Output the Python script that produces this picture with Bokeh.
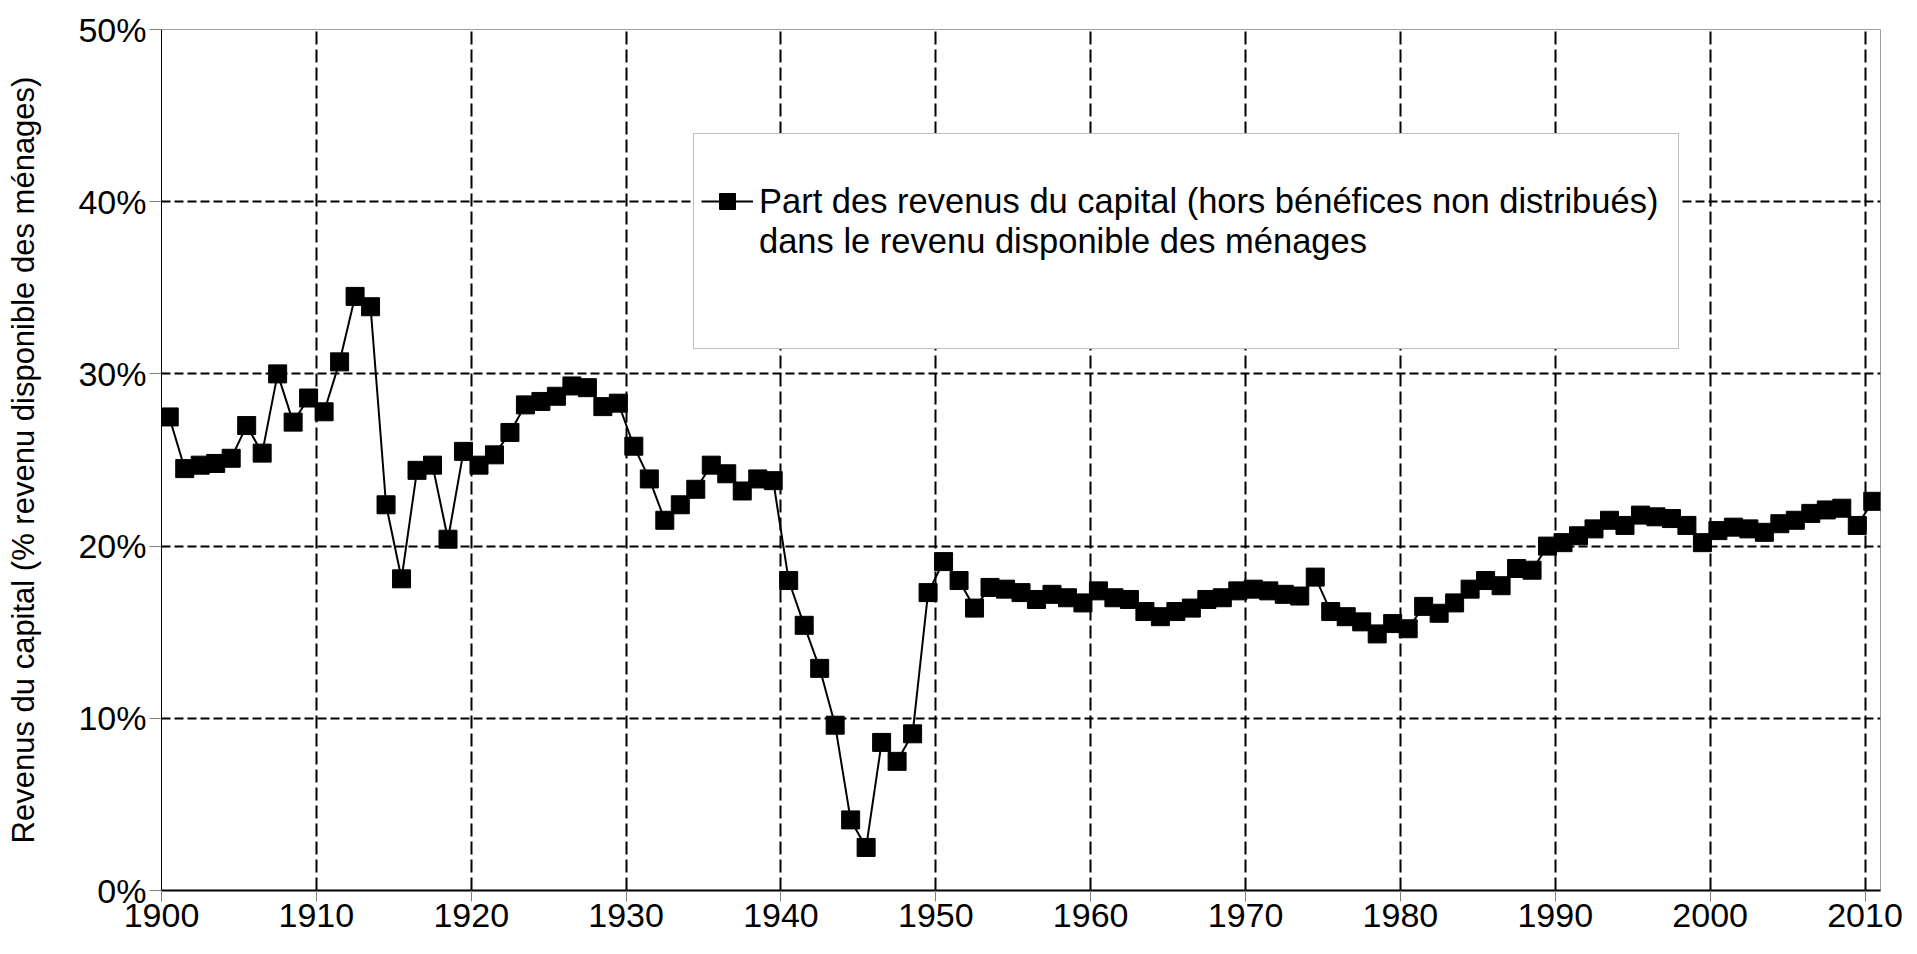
from bokeh.plotting import figure
from bokeh.models import (ColumnDataSource, Range1d, FixedTicker, PrintfTickFormatter,
                          Legend, LegendItem)
from bokeh.transform import dodge
from bokeh.embed import file_html
from bokeh.resources import INLINE

# ---- data ----
years = list(range(1900, 2011))
capital_share = [
    27.5, 24.5, 24.7, 24.8, 25.1, 27.0, 25.4, 30.0, 27.2, 28.6,   # 1900-1909
    27.8, 30.7, 34.5, 33.9, 22.4, 18.1, 24.4, 24.7, 20.4, 25.5,   # 1910-1919
    24.7, 25.3, 26.6, 28.2, 28.4, 28.7, 29.3, 29.2, 28.1, 28.3,   # 1920-1929
    25.8, 23.9, 21.5, 22.4, 23.3, 24.7, 24.2, 23.2, 23.9, 23.8,   # 1930-1939
    18.0, 15.4, 12.9, 9.6, 4.1, 2.5, 8.6, 7.5, 9.1, 17.3,         # 1940-1949
    19.1, 18.0, 16.4, 17.6, 17.5, 17.3, 16.9, 17.2, 17.0, 16.7,   # 1950-1959
    17.4, 17.0, 16.9, 16.2, 15.9, 16.2, 16.4, 16.9, 17.0, 17.4,   # 1960-1969
    17.5, 17.4, 17.2, 17.1, 18.2, 16.2, 15.9, 15.6, 14.9, 15.5,   # 1970-1979
    15.2, 16.5, 16.1, 16.7, 17.5, 18.0, 17.7, 18.7, 18.6, 20.0,   # 1980-1989
    20.2, 20.6, 21.0, 21.5, 21.2, 21.8, 21.7, 21.6, 21.2, 20.2,   # 1990-1999
    20.9, 21.1, 21.0, 20.8, 21.3, 21.5, 21.9, 22.1, 22.2, 21.2,   # 2000-2009
    22.6,                                                         # 2010
]
x_ticks = [1900, 1910, 1920, 1930, 1940, 1950, 1960, 1970, 1980, 1990, 2000, 2010]
y_ticks = [0, 10, 20, 30, 40, 50]
legend_line1 = "Part des revenus du capital (hors bénéfices non distribués)"
legend_line2 = "dans le revenu disponible des ménages"
y_label = "Revenus du capital (% revenu disponible des ménages)"

FONT = "'Liberation Sans', Arial, sans-serif"

src = ColumnDataSource(dict(year=years, share=capital_share))

p = figure(width=1917, height=954, output_backend="svg", toolbar_location=None,
           x_range=Range1d(1900, 2011), y_range=Range1d(0, 50),
           min_border_left=161, min_border_right=37, min_border_top=29,
           min_border_bottom=64, background_fill_color="white",
           border_fill_color="white")

p.outline_line_color = "#a0a0a0"
p.outline_line_width = 1

# grid
p.xgrid.ticker = FixedTicker(ticks=x_ticks[1:])
p.ygrid.ticker = FixedTicker(ticks=y_ticks[1:])
p.xgrid.grid_line_color = "black"
p.xgrid.grid_line_width = 2
p.xgrid.grid_line_dash = "13 5"
p.ygrid.grid_line_color = "black"
p.ygrid.grid_line_width = 2
p.ygrid.grid_line_dash = "9 4"

# x axis
xa = p.xaxis[0]
xa.ticker = FixedTicker(ticks=x_ticks)
xa.axis_line_color = "black"
xa.axis_line_width = 2
xa.major_tick_line_color = "#808080"
xa.major_tick_line_width = 1
xa.major_tick_out = 11
xa.major_tick_in = 0
xa.minor_tick_line_color = None
xa.major_label_text_font = FONT
xa.major_label_text_font_size = "34px"
xa.major_label_text_color = "black"
xa.major_label_standoff = 2

# y axis
ya = p.yaxis[0]
ya.ticker = FixedTicker(ticks=y_ticks)
ya.formatter = PrintfTickFormatter(format="%d%%")
ya.axis_line_color = "black"
ya.axis_line_width = 1
ya.major_tick_line_color = "#808080"
ya.major_tick_line_width = 1
ya.major_tick_out = 12
ya.major_tick_in = 0
ya.minor_tick_line_color = None
ya.major_label_text_font = FONT
ya.major_label_text_font_size = "34px"
ya.major_label_text_color = "black"
ya.major_label_standoff = 3
ya.axis_label = y_label
ya.axis_label_text_font = FONT
ya.axis_label_text_font_size = "31px"
ya.axis_label_text_font_style = "normal"
ya.axis_label_text_color = "black"
ya.axis_label_standoff = 34

# data
xs = dodge("year", 0.5, range=p.x_range)
line_r = p.line(x=xs, y="share", source=src, line_color="black", line_width=2)
pts_r = p.scatter(x=xs, y="share", source=src, marker="square", size=18,
                  fill_color="black", line_color="black")

# legend
items = [
    LegendItem(label="", renderers=[]),
    LegendItem(label=legend_line1, renderers=[line_r, pts_r]),
    LegendItem(label=legend_line2, renderers=[]),
    LegendItem(label="", renderers=[]),
    LegendItem(label="", renderers=[]),
]
legend = Legend(items=items, location=(532, 541), orientation="vertical",
                label_text_font=FONT, label_text_font_size="34.5px",
                label_text_color="black", label_height=40, glyph_height=40,
                glyph_width=52, label_standoff=6, label_width=912,
                padding=7, spacing=0, margin=0,
                border_line_color="#808080", border_line_width=1,
                background_fill_color="white", background_fill_alpha=1.0)
p.add_layout(legend, "center")

open("out.html", "w").write(file_html(p, INLINE))
